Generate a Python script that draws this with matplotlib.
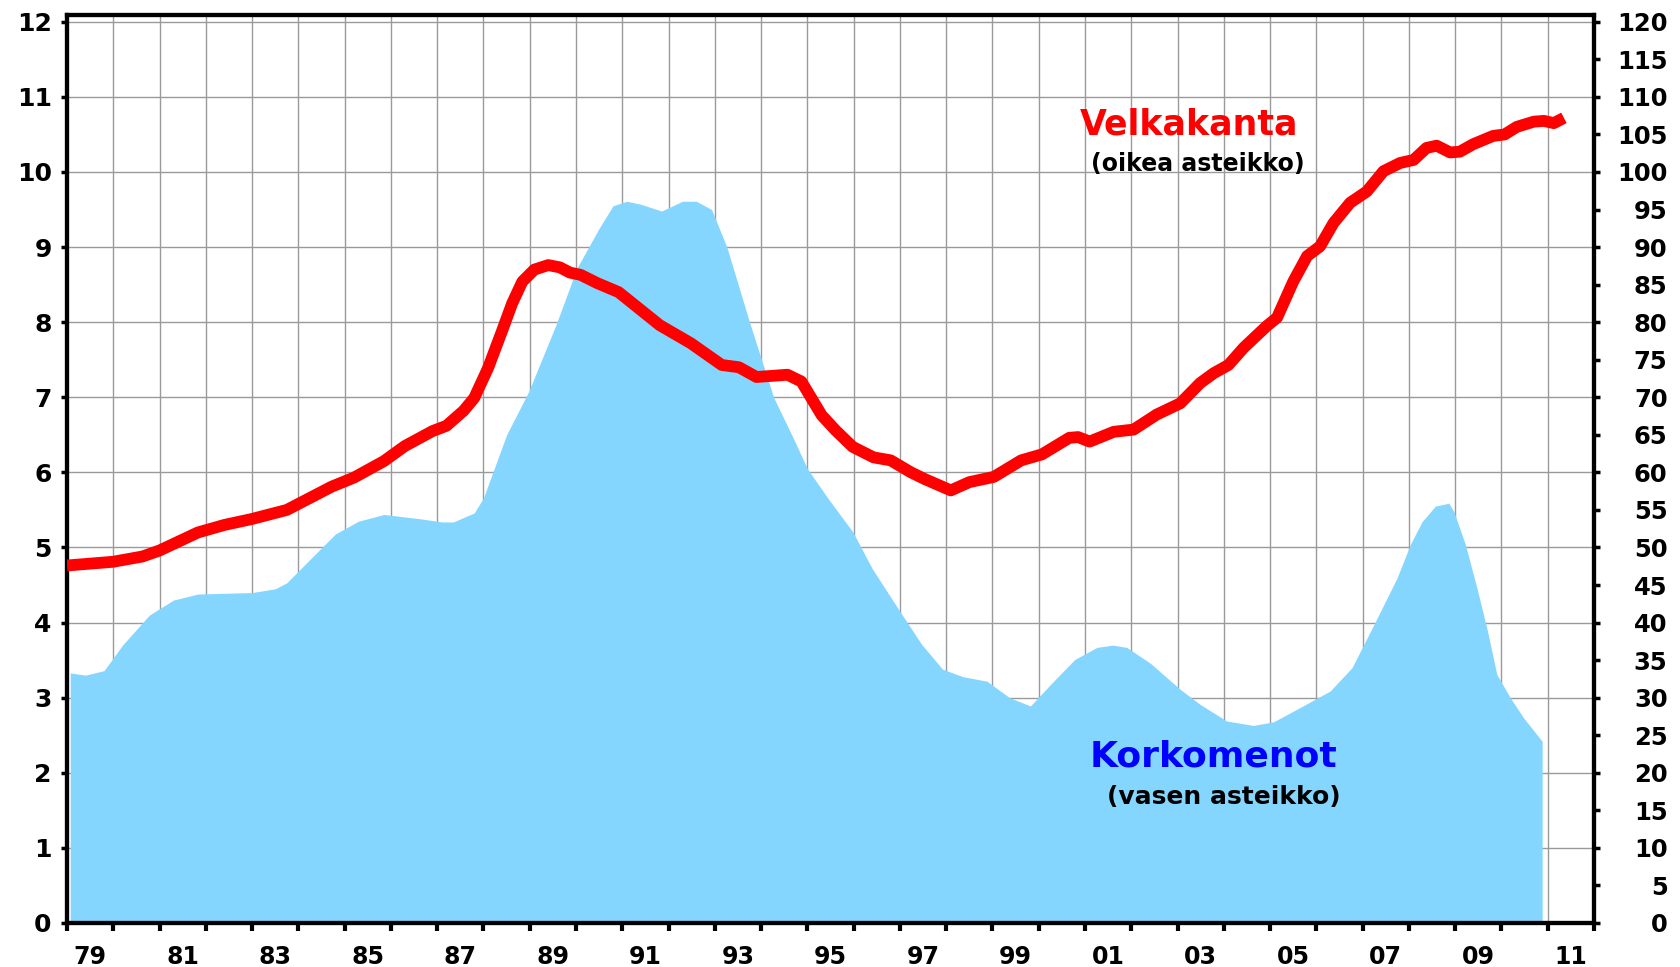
import numpy as np
import matplotlib
matplotlib.use("Agg")
import matplotlib.pyplot as plt

# Korkomenot (left scale)
korko_years = [1979.07, 1979.4, 1979.8, 1980.2, 1980.78, 1981.3, 1981.83, 1983.0,
               1983.5, 1983.75, 1984.2, 1984.8, 1985.3, 1985.85, 1986.66, 1987.1,
               1987.35, 1987.8, 1988.0, 1988.5, 1988.98, 1989.57, 1990.02, 1990.5,
               1990.8, 1991.1, 1991.4, 1991.85, 1992.3, 1992.6, 1992.93, 1993.26,
               1993.75, 1994.27, 1994.7, 1995.0, 1995.45, 1995.98, 1996.4, 1997.02,
               1997.47, 1997.92, 1998.36, 1998.88, 1999.37, 1999.82, 2000.26, 2000.78,
               2001.26, 2001.6, 2001.9, 2002.41, 2003.06, 2003.49, 2004.06, 2004.64,
               2005.08, 2005.65, 2006.3, 2006.77, 2007.24, 2007.74, 2008.03, 2008.28,
               2008.57, 2008.86, 2008.97, 2009.22, 2009.47, 2009.69, 2009.9, 2010.19,
               2010.48, 2010.88]
korko_vals = [3.33, 3.30, 3.36, 3.70, 4.10, 4.30, 4.38, 4.40,
              4.45, 4.53, 4.81, 5.18, 5.35, 5.44, 5.38, 5.34,
              5.34, 5.46, 5.66, 6.50, 7.08, 7.97, 8.72, 9.25,
              9.55, 9.61, 9.57, 9.48, 9.61, 9.61, 9.50, 9.00,
              8.00, 7.00, 6.45, 6.05, 5.65, 5.21, 4.72, 4.13,
              3.71, 3.38, 3.28, 3.22, 3.00, 2.89, 3.18, 3.51,
              3.67, 3.70, 3.67, 3.46, 3.11, 2.91, 2.69, 2.63,
              2.68, 2.87, 3.09, 3.40, 3.97, 4.59, 5.04, 5.34,
              5.55, 5.59, 5.48, 5.04, 4.46, 3.91, 3.31, 3.00,
              2.73, 2.42]

# Velkakanta (right scale)
velka_years = [1979.0, 1980.0, 1980.63, 1981.0, 1981.83, 1982.4, 1983.0, 1983.75,
               1984.72, 1985.2, 1985.85, 1986.3, 1986.9, 1987.2, 1987.57, 1987.8,
               1988.1, 1988.4, 1988.62, 1988.84, 1989.1, 1989.4, 1989.65, 1989.87,
               1990.1, 1990.46, 1990.92, 1991.81, 1992.48, 1993.15, 1993.52, 1993.9,
               1994.57, 1994.87, 1995.31, 1995.61, 1995.98, 1996.43, 1996.8, 1997.24,
               1997.54, 1998.1, 1998.5, 1999.03, 1999.62, 2000.07, 2000.66, 2000.85,
               2001.1, 2001.62, 2002.05, 2002.55, 2003.06, 2003.49, 2003.78, 2004.1,
               2004.43, 2004.93, 2005.15, 2005.5, 2005.8, 2006.08, 2006.37, 2006.73,
               2007.09, 2007.45, 2007.81, 2008.1, 2008.38, 2008.6, 2008.89, 2009.1,
               2009.39, 2009.82, 2010.07, 2010.33, 2010.7, 2010.92, 2011.13, 2011.35]
velka_vals = [47.6, 48.1, 48.8, 49.6, 52.0, 53.0, 53.8, 55.0,
              58.1, 59.3, 61.5, 63.5, 65.5, 66.2, 68.2, 69.9,
              73.9, 78.8, 82.5, 85.4, 87.0, 87.6, 87.3, 86.6,
              86.3, 85.2, 84.0, 79.6, 77.2, 74.3, 74.0, 72.7,
              73.0, 72.1, 67.6, 65.6, 63.4, 62.0, 61.6, 60.0,
              59.1, 57.6, 58.7, 59.4, 61.6, 62.4, 64.6, 64.7,
              64.1, 65.4, 65.7, 67.7, 69.2, 71.9, 73.2, 74.3,
              76.6, 79.5, 80.6, 85.4, 88.8, 90.1, 93.2, 95.9,
              97.4, 100.1, 101.2, 101.6, 103.2, 103.5, 102.6, 102.7,
              103.7, 104.8, 105.0, 106.0, 106.7, 106.8, 106.5, 107.2]

x_labels = ["79", "81", "83", "85", "87", "89", "91", "93", "95", "97",
            "99", "01", "03", "05", "07", "09", "11"]

plt.rcParams["font.family"] = "DejaVu Sans"
plt.rcParams["font.weight"] = "bold"

fig = plt.figure(figsize=(16.8, 9.67), dpi=100)
ax = fig.add_axes([67 / 1680, 1 - 923 / 967, (1594 - 67) / 1680, (923 - 15) / 967])
ax2 = ax.twinx()

ax.set_xlim(1979, 2012)
ax.set_ylim(0, 12.09)
ax2.set_ylim(0, 120.9)

# grid under the area
ax.set_axisbelow(True)
ax.set_xticks(np.arange(1979, 2013))
ax.set_yticks(np.arange(0, 13))
ax.grid(True, color="#9a9a9a", linewidth=1.0)

ax.fill_between(korko_years, korko_vals, 0, color="#85D6FF", linewidth=0, zorder=2)
ax2.plot(velka_years, velka_vals, color="#FF0000", linewidth=8.5,
         solid_capstyle="butt", solid_joinstyle="round", zorder=3)

# x labels sit between the year ticks
ax.set_xticks(np.arange(1979.5, 2012, 2), minor=True)
ax.set_xticklabels([], minor=False)
ax.set_xticklabels(x_labels, minor=True)
ax.tick_params(axis="x", which="major", direction="out", length=6, width=3,
               top=False, color="black")
ax.tick_params(axis="x", which="minor", length=0, pad=16, labelsize=17)
ax.tick_params(axis="y", direction="out", length=4, width=2.5, pad=7,
               labelsize=18, right=False)

ax2.set_yticks(np.arange(0, 121, 5))
ax2.tick_params(axis="y", direction="out", length=4, width=2.5, pad=49,
                labelsize=17.5)
for lab in ax2.get_yticklabels():
    lab.set_horizontalalignment("right")

for a in (ax, ax2):
    for s in a.spines.values():
        s.set_linewidth(3)
        s.set_color("black")

ax.text(2003.25, 10.63, "Velkakanta", color="#FF0000", fontsize=25,
        fontweight="bold", ha="center", va="center", zorder=5)
ax.text(2003.43, 10.11, "(oikea asteikko)", color="black", fontsize=17,
        fontweight="bold", ha="center", va="center", zorder=5)
ax.text(2003.77, 2.22, "Korkomenot", color="#0000FF", fontsize=26,
        fontweight="bold", ha="center", va="center", zorder=5)
ax.text(2004.0, 1.68, "(vasen asteikko)", color="black", fontsize=18,
        fontweight="bold", ha="center", va="center", zorder=5)

fig.savefig("out.png", dpi=100)
